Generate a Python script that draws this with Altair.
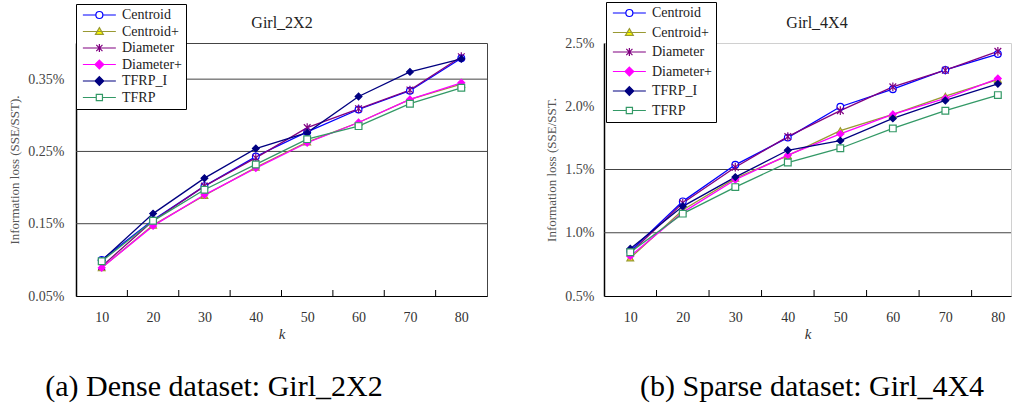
import altair as alt
import pandas as pd

K = [10, 20, 30, 40, 50, 60, 70, 80]
SERIES = ["Centroid", "Centroid+", "Diameter", "Diameter+", "TFRP_I", "TFRP"]

GIRL2 = {
    "Centroid":  [0.100, 0.155, 0.202, 0.243, 0.277, 0.308, 0.334, 0.379],
    "Centroid+": [0.089, 0.148, 0.189, 0.228, 0.263, 0.290, 0.322, 0.343],
    "Diameter":  [0.091, 0.154, 0.202, 0.241, 0.283, 0.309, 0.335, 0.381],
    "Diameter+": [0.089, 0.147, 0.190, 0.227, 0.262, 0.290, 0.322, 0.345],
    "TFRP_I":    [0.099, 0.164, 0.213, 0.254, 0.276, 0.326, 0.360, 0.378],
    "TFRP":      [0.098, 0.154, 0.197, 0.232, 0.267, 0.285, 0.316, 0.338],
}
GIRL4 = {
    "Centroid":  [0.854, 1.248, 1.537, 1.752, 1.996, 2.135, 2.287, 2.413],
    "Centroid+": [0.800, 1.180, 1.430, 1.610, 1.807, 1.936, 2.080, 2.211],
    "Diameter":  [0.840, 1.235, 1.518, 1.760, 1.965, 2.153, 2.285, 2.434],
    "Diameter+": [0.815, 1.161, 1.419, 1.613, 1.781, 1.936, 2.062, 2.219],
    "TFRP_I":    [0.873, 1.209, 1.440, 1.652, 1.728, 1.904, 2.046, 2.177],
    "TFRP":      [0.846, 1.151, 1.361, 1.555, 1.668, 1.825, 1.965, 2.088],
}

STROKES = ["#0000ff", "#999933", "#800080", "#ff00ff", "#000080", "#339966"]
FILLS = ["#ffffff", "#ffff00", "#800080", "#ff00ff", "#000080", "#ffffff"]
ASTER = "M-1,-1L1,1M-1,1L1,-1M0,-1.3V1.3"
SHAPES = ["circle", "triangle-up", ASTER, "diamond", "diamond", "square"]
LEG_SHAPES = [
    "M-1,0H2.15M3.85,0H7M2.15,0A0.85,0.85 0 1,0 3.85,0A0.85,0.85 0 1,0 2.15,0Z",
    "M-1,0H7M3,-0.95L3.95,0.7L2.05,0.7Z",
    "M-1,0H7M2.25,-0.75L3.75,0.75M2.25,0.75L3.75,-0.75M3,-1V1",
    "M-1,0H7M3,-1.05L4.05,0L3,1.05L1.95,0Z",
    "M-1,0H7M3,-1.05L4.05,0L3,1.05L1.95,0Z",
    "M-1,0H2.25M3.75,0H7M2.25,-0.75H3.75V0.75H2.25Z",
]

TICKS_X = [15, 25, 35, 45, 55, 65, 75]
FONT = "'Liberation Serif', 'Times New Roman', Times, serif"
H = 253


def long_df(d):
    rows = []
    for s in SERIES:
        for k, v in zip(K, d[s]):
            rows.append({"k": k, "v": v, "series": s})
    return pd.DataFrame(rows)


def panel(d, W, xdom, ydom, yvals, yfmt, grid_dark, title, title_x, caption,
          cap_x, ytitle, legx, legy, rowpad, label_pad, view_stroke):
    df = long_df(d)
    x = alt.X("k:Q", scale=alt.Scale(domain=xdom, nice=False, zero=False),
              axis=alt.Axis(values=K, ticks=False, grid=False, domainColor="black",
                            labelFont=FONT, labelFontSize=14, labelColor="#333",
                            labelPadding=14, title="k", titleFont=FONT,
                            titleFontStyle="italic", titleFontWeight="normal",
                            titleFontSize=15, titleColor="#333", titlePadding=2))
    y = alt.Y("v:Q", scale=alt.Scale(domain=ydom, nice=False, zero=False),
              axis=alt.Axis(values=yvals, ticks=False, grid=False, domainColor="black",
                            domainWidth=1.5,
                            labelExpr=f"format(datum.value, '{yfmt}') + '%'",
                            labelFont=FONT, labelFontSize=14, labelColor="#444",
                            labelPadding=label_pad, title=ytitle, titleFont=FONT,
                            titleFontWeight="normal", titleFontSize=13,
                            titleColor="#555", titlePadding=6))
    base = alt.Chart(df)
    lines = base.mark_line(strokeWidth=1.3).encode(
        x=x, y=y,
        stroke=alt.Stroke("series:N", scale=alt.Scale(domain=SERIES, range=STROKES), legend=None),
        detail="series:N",
    )
    points = base.mark_point(size=45, strokeWidth=1.2, opacity=1).encode(
        x=x, y=y,
        stroke=alt.Stroke("series:N", scale=alt.Scale(domain=SERIES, range=STROKES), legend=None),
        fill=alt.Fill("series:N", scale=alt.Scale(domain=SERIES, range=FILLS), legend=None),
        shape=alt.Shape("series:N", scale=alt.Scale(domain=SERIES, range=SHAPES), legend=None),
    )
    leg = alt.Legend(title=None, orient="none", legendX=legx, legendY=legy,
                     labelFont=FONT, labelFontSize=14, labelColor="#222",
                     strokeColor="black", fillColor="white", padding=4,
                     rowPadding=rowpad, symbolSize=68, symbolStrokeWidth=1.2,
                     symbolOpacity=1, labelOffset=28)
    legend_layer = base.mark_point(opacity=0).encode(
        stroke=alt.Stroke("series:N", scale=alt.Scale(domain=SERIES, range=STROKES), legend=leg),
        fill=alt.Fill("series:N", scale=alt.Scale(domain=SERIES, range=FILLS), legend=leg),
        shape=alt.Shape("series:N", scale=alt.Scale(domain=SERIES, range=LEG_SHAPES), legend=leg),
    )
    grid = alt.Chart(pd.DataFrame({"g": grid_dark})).mark_rule(
        color="#444", strokeWidth=1).encode(
        y=alt.Y("g:Q", scale=alt.Scale(domain=ydom, nice=False, zero=False)))
    ticks = alt.Chart(pd.DataFrame({"t": TICKS_X})).mark_rule(
        color="black", strokeWidth=1).encode(
        x=alt.X("t:Q", scale=alt.Scale(domain=xdom, nice=False, zero=False)),
        y=alt.value(H), y2=alt.value(H - 6))
    ttl = alt.Chart(pd.DataFrame({"c": [title]})).mark_text(
        font=FONT, fontSize=16, color="#222", align="center",
        baseline="middle").encode(
        text="c:N", x=alt.value(title_x), y=alt.value(-20))
    cap = alt.Chart(pd.DataFrame({"c": [caption]})).mark_text(
        font=FONT, fontSize=30, color="black", align="center",
        baseline="alphabetic").encode(
        text="c:N", x=alt.value(cap_x), y=alt.value(H + 100))
    return alt.layer(grid, ticks, lines, points, legend_layer, ttl, cap).resolve_scale(
        stroke="independent", fill="independent", shape="independent"
    ).properties(
        width=W, height=H,
        view=alt.ViewBackground(stroke=view_stroke, strokeWidth=1),
    )


left = panel(GIRL2, 411, [5, 85], [0.05, 0.40], [0.05, 0.15, 0.25, 0.35], ".2f",
             [0.15, 0.25, 0.35], "Girl_2X2", 206, "(a) Dense dataset: Girl_2X2", 138,
             "Information loss (SSE/SST).", 0, -39, 2.5, 12, "#444")
right = panel(GIRL4, 407, [5, 82.5], [0.5, 2.5], [0.5, 1.0, 1.5, 2.0, 2.5], ".1f",
              [1.0, 1.5], "Girl_4X4", 213, "(b) Sparse dataset: Girl_4X4", 208,
              "Information loss (SSE/SST.", 2, -41, 5.5, 10, "#d0d0d0")

chart = alt.hconcat(left, right, spacing=57).resolve_scale(
    stroke="independent", fill="independent", shape="independent",
    x="independent", y="independent"
).properties(
    padding={"left": 8, "top": 1, "right": 0, "bottom": 0},
    background="white",
).configure(font=FONT).configure_legend(labelFont=FONT).configure_axis(
    labelFont=FONT, titleFont=FONT)

chart.save("out.html", embed_options={"renderer": "svg", "actions": False})
